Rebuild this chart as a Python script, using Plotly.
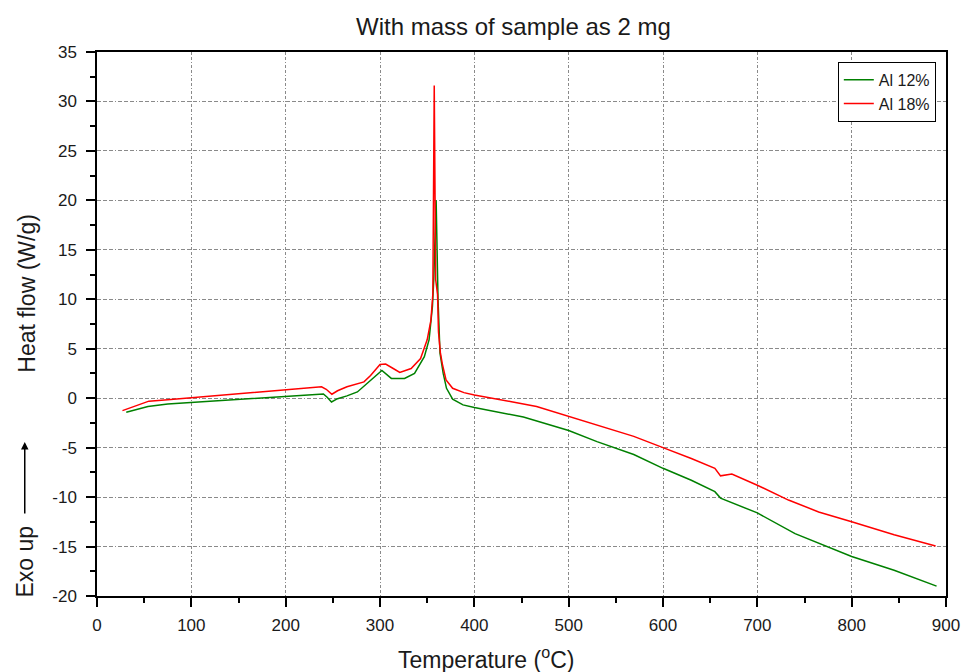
import plotly.graph_objects as go

# Temperature (°C) and heat flow (W/g)
t_al12 = [31, 40, 54, 75, 100, 130, 160, 202, 220, 240, 244, 248.6, 255, 265, 276, 290, 302,
          312, 326, 336.6, 347, 352, 355.6, 357, 359.5, 361.5, 363.6, 367, 370.5, 377, 388,
          400, 421, 452, 500, 530, 569, 600, 630, 655, 661, 700, 740, 800, 845, 890]
hf_al12 = [-1.42, -1.2, -0.85, -0.6, -0.44, -0.25, -0.04, 0.23, 0.35, 0.43, 0.1, -0.38, -0.05,
           0.23, 0.63, 1.8, 2.8, 2.0, 2.0, 2.5, 4.2, 5.9, 9.3, 12.0, 20.0, 10.0, 4.55, 2.5, 1.0,
           -0.1, -0.68, -0.95, -1.35, -1.9, -3.27, -4.39, -5.7, -7.09, -8.3, -9.45, -10.1,
           -11.6, -13.7, -16.0, -17.4, -19.0]

t_al18 = [27, 35, 45, 55, 75, 100, 125, 150, 175, 200, 220, 238, 243, 249, 255, 265, 283, 290,
          300, 306, 314, 321, 333, 343, 350, 354, 356, 357.5, 359, 361, 362, 364, 366, 370,
          377, 389, 400, 420, 438, 466, 500, 530, 569, 600, 630, 655, 661, 673, 700, 733, 765,
          800, 845, 889]
hf_al18 = [-1.26, -1.0, -0.6, -0.3, -0.15, 0.05, 0.25, 0.45, 0.6, 0.8, 0.95, 1.15, 0.9, 0.4,
           0.75, 1.15, 1.65, 2.3, 3.4, 3.45, 3.0, 2.6, 3.0, 4.0, 5.9, 7.9, 10.5, 31.6, 12.0,
           10.5, 6.7, 4.6, 3.5, 1.85, 1.0, 0.56, 0.33, 0.0, -0.33, -0.84, -1.85, -2.7, -3.86,
           -5.0, -6.1, -7.1, -7.85, -7.66, -8.8, -10.3, -11.5, -12.5, -13.8, -14.95]

series_names = ["Al 12%", "Al 18%"]
x_ticks = [0, 100, 200, 300, 400, 500, 600, 700, 800, 900]
y_ticks = [-20, -15, -10, -5, 0, 5, 10, 15, 20, 25, 30, 35]

FONT = "Liberation Sans, Arial, sans-serif"
TXT = "#1a1a1a"

fig = go.Figure()
fig.add_trace(go.Scatter(x=t_al12, y=hf_al12, mode="lines", name=series_names[0],
                         line=dict(color="#008000", width=1.5)))
fig.add_trace(go.Scatter(x=t_al18, y=hf_al18, mode="lines", name=series_names[1],
                         line=dict(color="#ff0000", width=1.5)))

axis_common = dict(
    showline=True, linecolor="black", linewidth=1.5, mirror=True,
    ticks="outside", ticklen=9, tickwidth=1.5, tickcolor="black",
    showgrid=True, gridcolor="#8a8a8a", gridwidth=1,
    zeroline=False,
    tickfont=dict(family=FONT, size=17, color=TXT),
)

fig.update_layout(
    width=972, height=672,
    margin=dict(l=97, r=19, t=52, b=76),
    paper_bgcolor="white", plot_bgcolor="white",
    showlegend=True,
    legend=dict(x=0.988, y=0.982, xanchor="right", yanchor="top",
                bgcolor="white", bordercolor="black", borderwidth=1,
                font=dict(family=FONT, size=16, color=TXT),
                tracegroupgap=0, itemwidth=30),
    xaxis=dict(range=[0, 900], tickvals=x_ticks, ticktext=[str(v) for v in x_ticks],
               griddash="3px,2px,3px,2px,1px,2px", ticklabelstandoff=4,
               minor=dict(tickvals=[v + 50 for v in x_ticks[:-1]], ticks="outside", ticklen=5,
                          tickwidth=1.5, tickcolor="black", showgrid=False),
               **axis_common),
    yaxis=dict(range=[-20, 35], tickvals=y_ticks, ticktext=[str(v) for v in y_ticks],
               griddash="4px,2px,4px,2px,4px,2px,1px,2px", ticklabelstandoff=6,
               minor=dict(tickvals=[v + 2.5 for v in y_ticks[:-1]], ticks="outside", ticklen=5,
                          tickwidth=1.5, tickcolor="black", showgrid=False),
               **axis_common),
    annotations=[
        dict(text="With mass of sample as 2 mg", x=0.4907, y=1.046, xref="paper", yref="paper",
             xanchor="center", yanchor="middle", showarrow=False,
             font=dict(family=FONT, size=24, color=TXT)),
        dict(text="Temperature (<sup>o</sup>C)", x=0.458, y=-0.114, xref="paper", yref="paper",
             xanchor="center", yanchor="middle", showarrow=False,
             font=dict(family=FONT, size=23, color=TXT)),
        dict(text="Heat flow (W/g)", x=-0.0818, y=0.555, xref="paper", yref="paper",
             xanchor="center", yanchor="middle", showarrow=False, textangle=-90,
             font=dict(family=FONT, size=23, color=TXT)),
        dict(text="Exo up", x=-0.0853, y=0.0625, xref="paper", yref="paper",
             xanchor="center", yanchor="middle", showarrow=False, textangle=-90,
             font=dict(family=FONT, size=23, color=TXT)),
        dict(text="", x=-0.0851, y=0.283, xref="paper", yref="paper",
             showarrow=True, ax=0, ay=73, arrowhead=2, arrowsize=1, arrowwidth=1.5,
             arrowcolor="black"),
    ],
)

fig.write_html("out.html")
